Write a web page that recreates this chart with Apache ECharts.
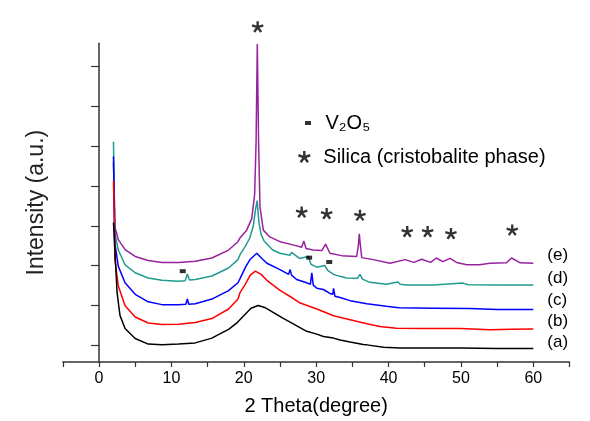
<!DOCTYPE html>
<html><head><meta charset="utf-8">
<script src="https://cdn.jsdelivr.net/npm/echarts@6/dist/echarts.min.js"></script>
<style>html,body{margin:0;padding:0;background:#fff}#c{width:590px;height:421px}</style>
</head><body><div id="c"></div>
<script>
// ---- data ----
const xE = [2.0,2.2,2.67,3.6,5,6.8,8.7,11,13.3,15.6,17.9,19.2,19.5,20.4,21.1,21.5,21.7,21.87,22.05,22.24,22.7,23.6,25,26.8,28.0,28.3,28.6,29.6,30.8,31.3,31.9,33.5,35.6,35.85,35.96,36.1,36.3,37.9,40.2,42.3,43.5,44.6,45.8,46.6,47.5,48.5,49.4,50.8,52.6,54,56.3,57.0,58.2,60];
const yE = [5.0,3.39,3.07,2.82,2.65,2.55,2.5,2.5,2.53,2.61,2.81,3.02,3.12,3.31,3.6,4.2,5.5,7.98,5.5,3.9,3.31,3.14,3.02,2.94,2.88,3.04,2.85,2.81,2.8,2.96,2.73,2.67,2.65,2.95,3.22,2.95,2.62,2.57,2.48,2.57,2.5,2.58,2.5,2.61,2.52,2.6,2.5,2.44,2.44,2.48,2.49,2.61,2.49,2.48];
const xD = [2.0,2.2,2.67,3.6,5,6.8,8.7,11,11.9,12.2,12.5,13.3,15.6,17.9,19.2,19.5,20.2,20.8,21.3,21.6,21.85,22.1,22.4,22.8,24,25,26.4,26.6,27.7,28.9,29.3,30.1,31.2,31.6,32.4,33.3,34.2,35.7,36.05,36.4,37.4,39.7,41.3,41.6,42.5,46.2,50.3,51,55.4,60];
const yD = [5.53,3.22,2.81,2.44,2.24,2.11,2.05,2.03,2.04,2.21,2.06,2.07,2.16,2.36,2.57,2.7,2.9,3.1,3.4,3.8,4.05,3.5,3.2,3.04,2.81,2.73,2.68,2.75,2.6,2.65,2.45,2.38,2.42,2.3,2.2,2.15,2.11,2.1,2.2,2.08,2.0,1.95,2.01,1.95,1.93,1.93,1.98,1.94,1.93,1.93];
const xC = [2.0,2.2,2.67,3.6,5,6.8,8.7,11,12.0,12.2,12.4,13.3,15.6,17.9,19.2,19.5,20.3,20.9,21.8,22.5,23.2,25,26.2,26.4,26.6,27.3,28.7,29.2,29.4,29.6,30.1,31,31.9,32.3,32.4,32.6,33.3,34.7,37,39.7,41.1,41.3,41.5,46.2,51.2,55,60];
const yC = [5.16,2.98,2.40,1.99,1.70,1.51,1.44,1.44,1.45,1.58,1.45,1.46,1.58,1.79,1.99,2.1,2.4,2.58,2.73,2.6,2.48,2.32,2.2,2.32,2.18,2.07,1.99,1.95,2.24,1.93,1.85,1.82,1.72,1.7,1.85,1.65,1.62,1.54,1.46,1.4,1.37,1.42,1.36,1.35,1.34,1.32,1.32];
const xB = [2.0,2.2,2.67,3.6,5,6.8,8.7,11,13.3,15.6,17.9,19.2,19.5,20.2,20.9,21.6,22.4,23.2,25,26.8,27.8,30.1,32.4,34.7,37,38.8,41.1,45,50,54,57,60];
const yB = [4.55,2.57,1.91,1.41,1.13,0.98,0.94,0.95,0.99,1.09,1.33,1.58,1.75,1.95,2.18,2.28,2.2,2.05,1.8,1.6,1.48,1.33,1.16,1.06,0.96,0.89,0.85,0.84,0.84,0.81,0.82,0.83];
const xA = [2.0,2.1,2.5,2.9,3.6,5,6.8,8.7,11,13.3,15.6,16.3,17.9,19.1,20.2,21,22,23,24,25.4,26.4,28.7,30.1,31,32.4,33.3,34.7,36.5,37,39.3,41.6,45,50,55,60];
const yA = [3.5,3.47,1.74,1.17,0.84,0.59,0.45,0.43,0.45,0.48,0.6,0.67,0.82,0.99,1.2,1.35,1.42,1.36,1.25,1.1,1.0,0.77,0.7,0.64,0.6,0.55,0.5,0.44,0.43,0.37,0.35,0.35,0.35,0.34,0.34];
const sampleNames = ['(e)','(d)','(c)','(b)','(a)'];
const sampleColors = ['#97219f','#1f9a8e','#0000ff','#ff0000','#000000'];
// V2O5 markers and silica (cristobalite) markers
const vX = [11.57, 29.03, 31.81];
const vY = [2.28, 2.62, 2.51];
const sX = [21.92, 28.0, 31.45, 36.05, 42.58, 45.4, 48.62, 57.09];
const sY = [8.41, 3.76, 3.72, 3.68, 3.27, 3.27, 3.22, 3.31];
const xTickLabels = [0,10,20,30,40,50,60];
const yTicks = [0.42,1.42,2.42,3.42,4.42,5.42,6.42,7.42];

const zip = (xs, ys) => xs.map((x, i) => [x, ys[i]]);
const FONT = 'Liberation Sans, Arial, sans-serif';
const STAR = 'path://M60,50L60,0L40,0L40,50Z M53.09,59.51L100.64,44.06L94.46,25.04L46.91,40.49Z M53.09,40.49L5.54,25.04L-0.64,44.06L46.91,59.51Z M41.91,55.88L71.3,96.33L87.48,84.57L58.09,44.12Z M41.91,44.12L12.52,84.57L28.7,96.33L58.09,55.88Z';
const SQUARE = 'path://M0,0L6,0L6,4L0,4Z';
const labelOffsets = [-8, -7, -9, -8, -6];

const lines = [[xE,yE],[xD,yD],[xC,yC],[xB,yB],[xA,yA]].map((p, i) => ({
  type: 'line', name: sampleNames[i], data: zip(p[0], p[1]), showSymbol: false,
  lineStyle: { color: sampleColors[i], width: 1.5 }, itemStyle: { color: sampleColors[i] },
  endLabel: { show: true, formatter: sampleNames[i], distance: 14, offset: [0, labelOffsets[i]],
    fontSize: 17, color: '#000', fontFamily: FONT },
  emphasis: { disabled: true }, z: 2
}));

const chart = echarts.init(document.getElementById('c'), null, { renderer: 'canvas' });
chart.setOption({
  animation: false,
  backgroundColor: '#fff',
  textStyle: { fontFamily: FONT },
  grid: { left: 62.8, right: 20.5, top: 43.3, bottom: 53.7, containLabel: false },
  legend: [
    { data: [{ name: 'V₂O₅', icon: SQUARE }], left: 300, top: 108, itemWidth: 25, itemHeight: 4,
      itemGap: 0, textStyle: { fontSize: 20, color: '#000', fontFamily: FONT }, selectedMode: false },
    { data: [{ name: 'Silica (cristobalite phase)', icon: STAR }], left: 293, top: 142, itemWidth: 28, itemHeight: 12,
      textStyle: { fontSize: 20, color: '#000', fontFamily: FONT }, selectedMode: false }
  ],
  xAxis: {
    type: 'value', min: -5, max: 65, interval: 5,
    name: '2 Theta(degree)', nameLocation: 'middle', nameGap: 34,
    nameTextStyle: { fontSize: 20, color: '#000', fontFamily: FONT },
    axisLine: { show: true, lineStyle: { color: '#333', width: 1.5 } },
    axisTick: { show: true, inside: false, length: 5, lineStyle: { color: '#333', width: 1.2 } },
    axisLabel: { fontSize: 16, color: '#000', margin: 9,
      formatter: v => (xTickLabels.indexOf(v) >= 0 ? String(v) : '') },
    splitLine: { show: false }
  },
  yAxis: {
    type: 'value', min: 0, max: 8,
    name: 'Intensity (a.u.)', nameLocation: 'middle', nameGap: 15,
    nameTextStyle: { fontSize: 23, color: '#222', fontFamily: FONT },
    axisLine: { show: true, lineStyle: { color: '#333', width: 1.5 } },
    axisTick: { show: true, inside: false, length: 8, customValues: yTicks, lineStyle: { color: '#333', width: 1.2 } },
    axisLabel: { show: false },
    splitLine: { show: false }
  },
  series: lines.concat([
    { type: 'scatter', name: 'V₂O₅', data: zip(vX, vY), symbol: SQUARE, symbolSize: [6, 4],
      itemStyle: { color: '#000' }, clip: false, z: 5, emphasis: { disabled: true } },
    { type: 'scatter', name: 'Silica (cristobalite phase)', data: zip(sX, sY), symbol: STAR, symbolSize: 12,
      symbolKeepAspect: true, itemStyle: { color: '#000' }, clip: false, z: 5, emphasis: { disabled: true } }
  ])
});
</script></body></html>
